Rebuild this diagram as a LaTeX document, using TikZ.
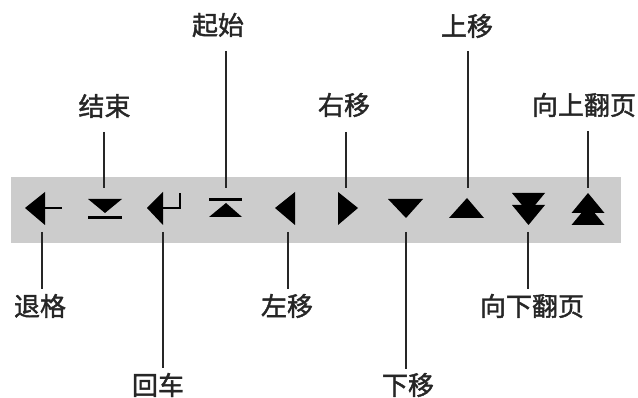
\documentclass[tikz,border=0pt]{standalone}
\usepackage{fontspec}
\newfontfamily\cjk{Noto Sans CJK SC}[FakeBold=1.6]
\begin{document}
\begin{tikzpicture}[x=0.75pt,y=-0.75pt,
  lab/.style={font=\cjk\fontsize{19.5}{20}\selectfont, inner sep=0pt, text=black!85},
  lead/.style={line width=1.5pt, draw=black!85},
  glyph/.style={fill=black},
  bar/.style={fill=black!20, draw=none}]
\useasboundingbox (0,0) rectangle (638,398);
% key bar
\path[bar] (11,177) rectangle (621,243);
% glyphs
\fill[glyph] (25,208) -- (45,192) -- (45,225) -- cycle;
\fill[glyph] (44,207) rectangle (62,209.5);
\fill[glyph] (88,199) -- (122,199) -- (105,213) -- cycle;
\fill[glyph] (88,216) rectangle (122,218.8);
\fill[glyph] (147,208) -- (163,192) -- (163,225) -- cycle;
\draw[line width=1.6pt] (162,208) -- (180,208) -- (180,193);
\fill[glyph] (209,197.8) rectangle (242,200.6);
\fill[glyph] (226,203) -- (242,217) -- (209,217) -- cycle;
\fill[glyph] (275,208) -- (295,192) -- (295,225) -- cycle;
\fill[glyph] (358,208) -- (338,192) -- (338,225) -- cycle;
\fill[glyph] (388,199) -- (423,199) -- (406,218) -- cycle;
\fill[glyph] (467,198) -- (484,218) -- (449,218) -- cycle;
\fill[glyph] (512,193) -- (545,193) -- (528.5,213) -- cycle;
\fill[glyph] (512,205) -- (545,205) -- (528.5,225) -- cycle;
\fill[glyph] (588,193) -- (604.5,213) -- (571.5,213) -- cycle;
\fill[glyph] (588,205) -- (604.5,225) -- (571.5,225) -- cycle;
% labels
\node[lab] (qishi) at (218,25) {起始};
\node[lab] (shangyi) at (467,26) {上移};
\node[lab] (jieshu) at (104.5,106) {结束};
\node[lab] (youyi) at (344,105) {右移};
\node[lab] (pgup) at (584,105) {向上翻页};
\node[lab] (tuige) at (40,306) {退格};
\node[lab] (huiche) at (158,385) {回车};
\node[lab] (zuoyi) at (287,306) {左移};
\node[lab] (xiayi) at (408,385) {下移};
\node[lab] (pgdn) at (532,306) {向下翻页};
% connector ends
\coordinate (qishiA) at (226,51);   \coordinate (qishiB) at (226,188);
\coordinate (shangyiA) at (468,51); \coordinate (shangyiB) at (468,188);
\coordinate (jieshuA) at (104,132); \coordinate (jieshuB) at (104,188);
\coordinate (youyiA) at (346,132);  \coordinate (youyiB) at (346,188);
\coordinate (pgupA) at (588,131);   \coordinate (pgupB) at (588,188);
\coordinate (tuigeA) at (42,232);   \coordinate (tuigeB) at (42,289);
\coordinate (huicheA) at (163,232); \coordinate (huicheB) at (163,368);
\coordinate (zuoyiA) at (288,232);  \coordinate (zuoyiB) at (288,289);
\coordinate (xiayiA) at (406,232);  \coordinate (xiayiB) at (406,369);
\coordinate (pgdnA) at (528,232);   \coordinate (pgdnB) at (528,289);
\foreach \n in {qishi,shangyi,jieshu,youyi,pgup,tuige,huiche,zuoyi,xiayi,pgdn}
  \draw[lead] (\n A) -- (\n B);
\end{tikzpicture}
\end{document}
